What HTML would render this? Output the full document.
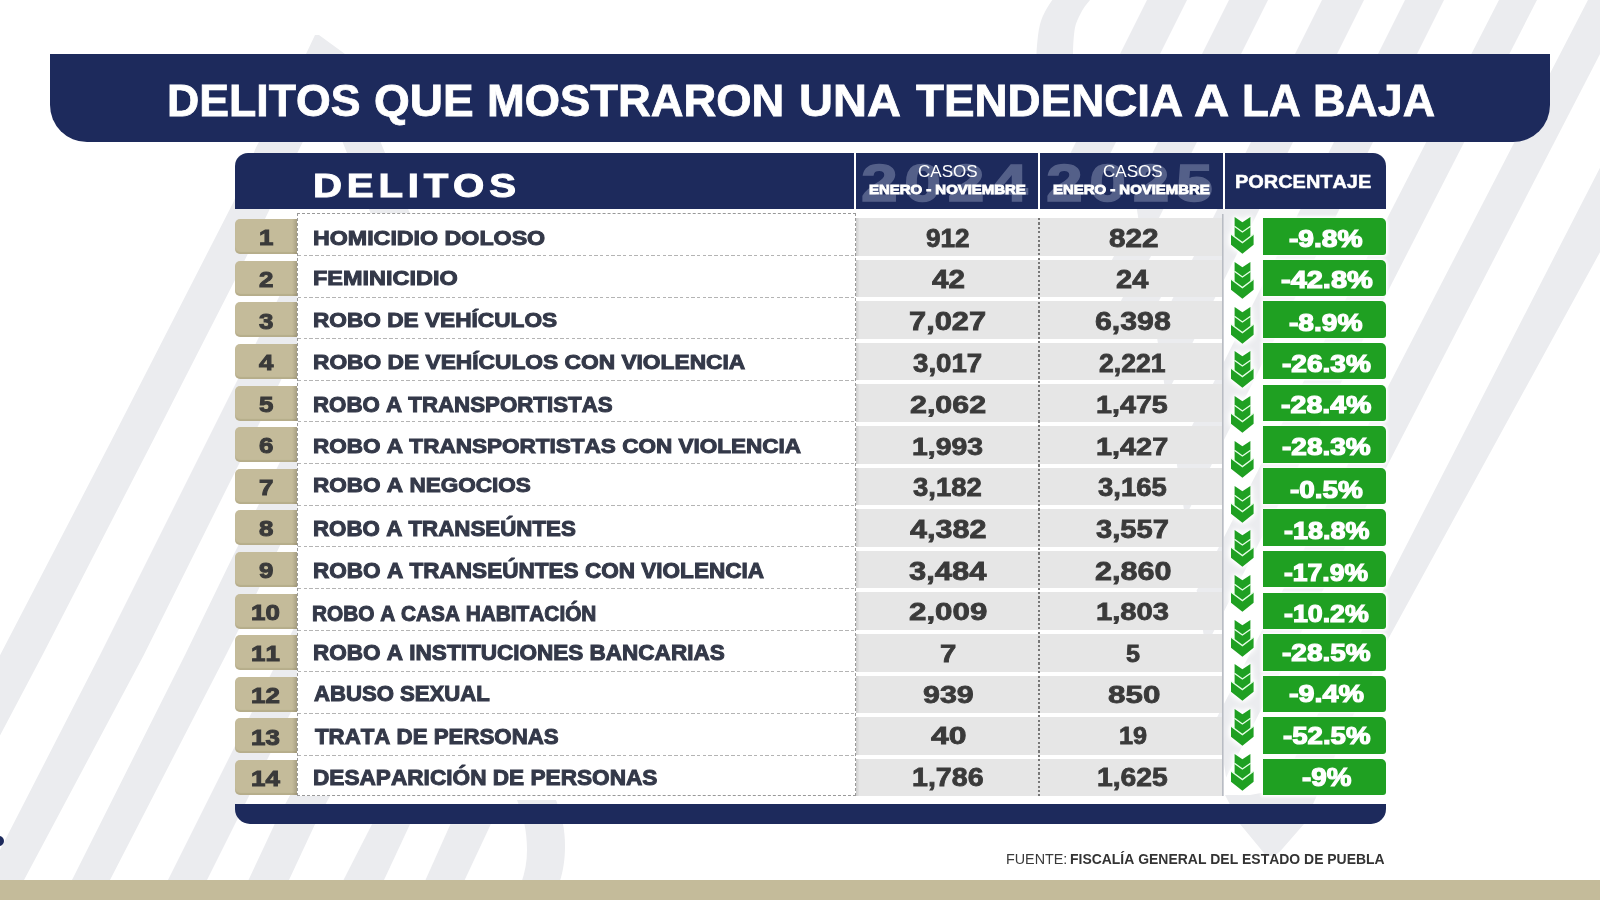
<!DOCTYPE html>
<html lang="es">
<head>
<meta charset="utf-8">
<title>Delitos que mostraron una tendencia a la baja</title>
<style>
html,body{margin:0;padding:0;}
body{width:1600px;height:900px;overflow:hidden;background:#fff;font-family:"Liberation Sans",sans-serif;}
#stage{position:relative;width:1600px;height:900px;overflow:hidden;background:#fff;}
#stage div,#stage span,#stage svg{position:absolute;}
.t{display:block;white-space:nowrap;font-weight:700;transform-origin:0 50%;font-kerning:none;}
.navy{background:#1d2a5c;}
.badge{left:235px;width:62px;height:35px;background:linear-gradient(90deg,#c4bb9a 0,#c4bb9a 57px,#aaa286 61.5px);border-radius:5px 0 0 5px;box-shadow:inset 0 -2px 1px rgba(120,110,70,.18);}
.cell{left:855.4px;width:366.2px;height:37.7px;background:linear-gradient(90deg,#9a9a9a 0,#cfcfcf 1.5px,#e6e6e6 4.5px);}
.gbox{left:1263px;width:123px;height:36.4px;background:#1fa022;border-radius:0 5px 3px 0;box-shadow:0 0 3px 1.5px rgba(255,255,255,.95);}
.hline{left:297.5px;width:557px;height:1px;background:repeating-linear-gradient(90deg,#b4b4b4 0 3.4px,transparent 3.4px 5.7px);}
.wm{font-size:52px;line-height:52px;font-weight:700;color:#a3abc8;opacity:.42;letter-spacing:5.2px;white-space:nowrap;-webkit-text-stroke:1.4px #a3abc8;transform:scaleX(1.27);transform-origin:0 50%;font-kerning:none;}
.arr{filter:drop-shadow(0 0 1.5px #fff) drop-shadow(0 0 2px #fff) drop-shadow(0 0 3px #fff);overflow:visible;}
</style>
</head>
<body>
<div id="stage">

<svg id="bg" width="1600" height="900" viewBox="0 0 1600 900" style="left:0;top:0">
<g fill="#ebecef">
<polygon points="315.0,35.0 319.0,35.0 345.0,54.0 383.0,148.0 425.0,250.0 385.0,250.0 345.0,148.0 325.0,98.0 300.0,147.5 235.0,280.0 153.3,440.0 42.5,655.0 -5.0,745.0 -5.0,665.0 111.7,440.0 233.0,203.0 256.0,147.5 306.0,54.0"/>
<polygon points="300.0,255.0 300.0,342.0 235.0,472.0 143.8,655.0 24.0,880.0 -5.0,890.0 -5.0,860.0 0.5,849.0 100.0,655.0 212.5,430.0"/>
<polygon points="300.0,422.0 300.0,505.0 235.0,637.0 226.0,655.0 110.0,880.0 72.0,880.0 185.0,655.0 235.0,552.0"/>
<polygon points="300.0,616.0 300.0,694.0 235.0,824.0 207.0,880.0 168.0,880.0 235.0,746.0"/>
<polygon points="300.0,777.0 315.0,824.3 289.0,880.0 248.5,880.0 274.6,824.3"/>
<polygon points="300.0,777.0 340.0,777.0 315.0,824.3 274.6,824.3"/>
<polygon points="372.0,824.3 410.0,824.3 384.0,880.0 343.5,880.0"/>
<polygon points="372.0,824.3 410.0,824.3 420.0,804.0 382.0,804.0"/>
<polygon points="450.4,824.3 490.8,824.3 464.7,880.0 425.5,880.0"/>
<polygon points="450.4,824.3 490.8,824.3 500.0,804.0 460.0,804.0"/>
<polygon points="1148.0,-2.0 1188.0,-2.0 1084.5,205.0 1044.5,205.0"/>
<polygon points="1230.0,-2.0 1269.0,-2.0 1143.2,249.6 1133.9,190.3"/>
<polygon points="1323.0,-2.0 1365.0,-2.0 1166.1,395.7 1156.1,331.8"/>
<polygon points="1406.0,-2.0 1445.0,-2.0 1185.2,517.5 1175.9,458.1"/>
<polygon points="1500.0,-2.0 1538.0,-2.0 1205.6,647.2 1196.7,590.4"/>
<polygon points="1589.0,-2.0 1629.0,-2.0 1226.1,777.4 1216.7,718.1"/>
<polygon points="1605.0,158.0 1605.0,243.0 1386.0,643.0 1304.0,824.0 1280.0,851.5 1276.0,854.5 1270.0,856.0 1265.0,854.5 1261.7,850.2 1240.0,824.0 1225.0,795.0 1250.0,795.0 1278.0,790.0 1386.0,585.0"/>
<path d="M1036.5 56L1036.5 54C1037 44 1038 34 1039.3 27.5C1040.5 22 1042 17.5 1044 13.75C1046 9.5 1049 4.5 1052.3 0L1053.5 -2L1091 -2L1090 0C1086 4.5 1082.8 9 1080.5 13.75C1078 18.5 1076 23 1075 27.5C1073.8 34 1073.2 44 1073 54L1073 56Z"/>
<path d="M517 800C523 815 527 830 527 850C527 862 525 872 521 884L559 884C563 872 565 860 565 846C565 830 562 815 556 800Z"/>
</g></svg>

<div style="left:0;top:879.8px;width:1600px;height:21px;background:#c4bb9a"></div>
<div style="left:-6px;top:836px;width:10px;height:10px;border-radius:50%;background:#1d2a5c"></div>
<div class="navy" style="left:50px;top:54.2px;width:1500.3px;height:88.3px;border-radius:0 0 37px 37px"></div>
<div class="navy" style="left:235px;top:153.3px;width:1151px;height:56.2px;border-radius:13px 13px 0 0;overflow:hidden">
<span class="wm" style="left:626px;top:4px">2024</span>
<span class="wm" style="left:810.5px;top:4px">2025</span>
<div style="left:618.7px;top:0;width:2.4px;height:57px;background:#fff"></div>
<div style="left:802.6px;top:0;width:2.4px;height:57px;background:#fff"></div>
<div style="left:987.5px;top:0;width:2.4px;height:57px;background:#fff"></div>
</div>
<div class="navy" style="left:235px;top:804px;width:1151px;height:19.6px;border-radius:0 0 15px 15px"></div>
<div class="badge" style="top:219.10px"></div>
<div class="badge" style="top:260.70px"></div>
<div class="badge" style="top:302.30px"></div>
<div class="badge" style="top:343.90px"></div>
<div class="badge" style="top:385.50px"></div>
<div class="badge" style="top:427.10px"></div>
<div class="badge" style="top:468.70px"></div>
<div class="badge" style="top:510.30px"></div>
<div class="badge" style="top:551.90px"></div>
<div class="badge" style="top:593.50px"></div>
<div class="badge" style="top:635.10px"></div>
<div class="badge" style="top:676.70px"></div>
<div class="badge" style="top:718.30px"></div>
<div class="badge" style="top:759.90px"></div>
<div class="cell" style="top:218.00px"></div>
<div class="cell" style="top:259.60px"></div>
<div class="cell" style="top:301.20px"></div>
<div class="cell" style="top:342.80px"></div>
<div class="cell" style="top:384.40px"></div>
<div class="cell" style="top:426.00px"></div>
<div class="cell" style="top:467.60px"></div>
<div class="cell" style="top:509.20px"></div>
<div class="cell" style="top:550.80px"></div>
<div class="cell" style="top:592.40px"></div>
<div class="cell" style="top:634.00px"></div>
<div class="cell" style="top:675.60px"></div>
<div class="cell" style="top:717.20px"></div>
<div class="cell" style="top:758.80px;height:36.9px"></div>
<div style="left:1113px;top:255.70px;width:37px;height:3.9px;background:#ebecef;transform:skewX(-27deg)"></div>
<div style="left:1122px;top:297.30px;width:38px;height:3.9px;background:#ebecef;transform:skewX(-27deg)"></div>
<div style="left:1038.3px;top:218px;width:1.3px;height:577.7px;background:repeating-linear-gradient(180deg,#777 0 2.2px,transparent 2.2px 4.4px)"></div>
<div style="left:1221.5px;top:214px;width:2px;height:582px;background:linear-gradient(90deg,#aeb2ba,#d9dbe0)"></div>
<div style="left:296.5px;top:213px;width:557.7px;height:581px;background:#fff;border:1px dashed #999;box-sizing:content-box"></div>
<div class="hline" style="top:254.85px"></div>
<div class="hline" style="top:296.50px"></div>
<div class="hline" style="top:338.15px"></div>
<div class="hline" style="top:379.80px"></div>
<div class="hline" style="top:421.45px"></div>
<div class="hline" style="top:463.10px"></div>
<div class="hline" style="top:504.75px"></div>
<div class="hline" style="top:546.40px"></div>
<div class="hline" style="top:588.05px"></div>
<div class="hline" style="top:629.70px"></div>
<div class="hline" style="top:671.35px"></div>
<div class="hline" style="top:713.00px"></div>
<div class="hline" style="top:754.65px"></div>
<div class="gbox" style="top:218.20px"></div>
<div class="gbox" style="top:259.80px"></div>
<div class="gbox" style="top:301.40px"></div>
<div class="gbox" style="top:343.00px"></div>
<div class="gbox" style="top:384.60px"></div>
<div class="gbox" style="top:426.20px"></div>
<div class="gbox" style="top:467.80px"></div>
<div class="gbox" style="top:509.40px"></div>
<div class="gbox" style="top:551.00px"></div>
<div class="gbox" style="top:592.60px"></div>
<div class="gbox" style="top:634.20px"></div>
<div class="gbox" style="top:675.80px"></div>
<div class="gbox" style="top:717.40px"></div>
<div class="gbox" style="top:759.00px"></div>
<svg class="arr" width="27" height="41" viewBox="-2 -2 27 41" style="left:1229.40px;top:215.40px"><path d="M3.6 0L11.4 5.3L19.4 0V19.5L22.6 17.2V27.8L11.4 36.8L0 27.8V17.2L3.6 19.9Z" fill="#1fa022"/><path d="M3.4 9.3L11.4 15L19.6 9.3M-.2 17L11.4 25.6L22.8 17" fill="none" stroke="#e6ffe6" stroke-width="1.4"/></svg>
<svg class="arr" width="27" height="41" viewBox="-2 -2 27 41" style="left:1229.40px;top:260.09px"><path d="M3.6 0L11.4 5.3L19.4 0V19.5L22.6 17.2V27.8L11.4 36.8L0 27.8V17.2L3.6 19.9Z" fill="#1fa022"/><path d="M3.4 9.3L11.4 15L19.6 9.3M-.2 17L11.4 25.6L22.8 17" fill="none" stroke="#e6ffe6" stroke-width="1.4"/></svg>
<svg class="arr" width="27" height="41" viewBox="-2 -2 27 41" style="left:1229.40px;top:304.78px"><path d="M3.6 0L11.4 5.3L19.4 0V19.5L22.6 17.2V27.8L11.4 36.8L0 27.8V17.2L3.6 19.9Z" fill="#1fa022"/><path d="M3.4 9.3L11.4 15L19.6 9.3M-.2 17L11.4 25.6L22.8 17" fill="none" stroke="#e6ffe6" stroke-width="1.4"/></svg>
<svg class="arr" width="27" height="41" viewBox="-2 -2 27 41" style="left:1229.40px;top:349.47px"><path d="M3.6 0L11.4 5.3L19.4 0V19.5L22.6 17.2V27.8L11.4 36.8L0 27.8V17.2L3.6 19.9Z" fill="#1fa022"/><path d="M3.4 9.3L11.4 15L19.6 9.3M-.2 17L11.4 25.6L22.8 17" fill="none" stroke="#e6ffe6" stroke-width="1.4"/></svg>
<svg class="arr" width="27" height="41" viewBox="-2 -2 27 41" style="left:1229.40px;top:394.16px"><path d="M3.6 0L11.4 5.3L19.4 0V19.5L22.6 17.2V27.8L11.4 36.8L0 27.8V17.2L3.6 19.9Z" fill="#1fa022"/><path d="M3.4 9.3L11.4 15L19.6 9.3M-.2 17L11.4 25.6L22.8 17" fill="none" stroke="#e6ffe6" stroke-width="1.4"/></svg>
<svg class="arr" width="27" height="41" viewBox="-2 -2 27 41" style="left:1229.40px;top:438.85px"><path d="M3.6 0L11.4 5.3L19.4 0V19.5L22.6 17.2V27.8L11.4 36.8L0 27.8V17.2L3.6 19.9Z" fill="#1fa022"/><path d="M3.4 9.3L11.4 15L19.6 9.3M-.2 17L11.4 25.6L22.8 17" fill="none" stroke="#e6ffe6" stroke-width="1.4"/></svg>
<svg class="arr" width="27" height="41" viewBox="-2 -2 27 41" style="left:1229.40px;top:483.54px"><path d="M3.6 0L11.4 5.3L19.4 0V19.5L22.6 17.2V27.8L11.4 36.8L0 27.8V17.2L3.6 19.9Z" fill="#1fa022"/><path d="M3.4 9.3L11.4 15L19.6 9.3M-.2 17L11.4 25.6L22.8 17" fill="none" stroke="#e6ffe6" stroke-width="1.4"/></svg>
<svg class="arr" width="27" height="41" viewBox="-2 -2 27 41" style="left:1229.40px;top:528.23px"><path d="M3.6 0L11.4 5.3L19.4 0V19.5L22.6 17.2V27.8L11.4 36.8L0 27.8V17.2L3.6 19.9Z" fill="#1fa022"/><path d="M3.4 9.3L11.4 15L19.6 9.3M-.2 17L11.4 25.6L22.8 17" fill="none" stroke="#e6ffe6" stroke-width="1.4"/></svg>
<svg class="arr" width="27" height="41" viewBox="-2 -2 27 41" style="left:1229.40px;top:572.92px"><path d="M3.6 0L11.4 5.3L19.4 0V19.5L22.6 17.2V27.8L11.4 36.8L0 27.8V17.2L3.6 19.9Z" fill="#1fa022"/><path d="M3.4 9.3L11.4 15L19.6 9.3M-.2 17L11.4 25.6L22.8 17" fill="none" stroke="#e6ffe6" stroke-width="1.4"/></svg>
<svg class="arr" width="27" height="41" viewBox="-2 -2 27 41" style="left:1229.40px;top:617.61px"><path d="M3.6 0L11.4 5.3L19.4 0V19.5L22.6 17.2V27.8L11.4 36.8L0 27.8V17.2L3.6 19.9Z" fill="#1fa022"/><path d="M3.4 9.3L11.4 15L19.6 9.3M-.2 17L11.4 25.6L22.8 17" fill="none" stroke="#e6ffe6" stroke-width="1.4"/></svg>
<svg class="arr" width="27" height="41" viewBox="-2 -2 27 41" style="left:1229.40px;top:662.30px"><path d="M3.6 0L11.4 5.3L19.4 0V19.5L22.6 17.2V27.8L11.4 36.8L0 27.8V17.2L3.6 19.9Z" fill="#1fa022"/><path d="M3.4 9.3L11.4 15L19.6 9.3M-.2 17L11.4 25.6L22.8 17" fill="none" stroke="#e6ffe6" stroke-width="1.4"/></svg>
<svg class="arr" width="27" height="41" viewBox="-2 -2 27 41" style="left:1229.40px;top:706.99px"><path d="M3.6 0L11.4 5.3L19.4 0V19.5L22.6 17.2V27.8L11.4 36.8L0 27.8V17.2L3.6 19.9Z" fill="#1fa022"/><path d="M3.4 9.3L11.4 15L19.6 9.3M-.2 17L11.4 25.6L22.8 17" fill="none" stroke="#e6ffe6" stroke-width="1.4"/></svg>
<svg class="arr" width="27" height="41" viewBox="-2 -2 27 41" style="left:1229.40px;top:751.68px"><path d="M3.6 0L11.4 5.3L19.4 0V19.5L22.6 17.2V27.8L11.4 36.8L0 27.8V17.2L3.6 19.9Z" fill="#1fa022"/><path d="M3.4 9.3L11.4 15L19.6 9.3M-.2 17L11.4 25.6L22.8 17" fill="none" stroke="#e6ffe6" stroke-width="1.4"/></svg>

<span class="t" style="left:167.19px;top:79.00px;font-size:44.33px;line-height:44.33px;color:#fff;transform:scaleX(1.0073);-webkit-text-stroke:0.8px #fff;">DELITOS</span>
<span class="t" style="left:374.36px;top:79.00px;font-size:44.33px;line-height:44.33px;color:#fff;transform:scaleX(1.0375);-webkit-text-stroke:0.8px #fff;">QUE</span>
<span class="t" style="left:487.35px;top:79.00px;font-size:44.33px;line-height:44.33px;color:#fff;transform:scaleX(1.0228);-webkit-text-stroke:0.8px #fff;">MOSTRARON</span>
<span class="t" style="left:798.98px;top:79.00px;font-size:44.33px;line-height:44.33px;color:#fff;transform:scaleX(1.0610);-webkit-text-stroke:0.8px #fff;">UNA</span>
<span class="t" style="left:915.50px;top:79.00px;font-size:44.33px;line-height:44.33px;color:#fff;transform:scaleX(1.0331);-webkit-text-stroke:0.8px #fff;">TENDENCIA</span>
<span class="t" style="left:1193.60px;top:79.00px;font-size:44.33px;line-height:44.33px;color:#fff;transform:scaleX(1.1000);-webkit-text-stroke:0.8px #fff;">A</span>
<span class="t" style="left:1241.71px;top:79.00px;font-size:44.33px;line-height:44.33px;color:#fff;transform:scaleX(0.9933);-webkit-text-stroke:0.8px #fff;">LA</span>
<span class="t" style="left:1313.38px;top:79.00px;font-size:44.33px;line-height:44.33px;color:#fff;transform:scaleX(1.0112);-webkit-text-stroke:0.8px #fff;">BAJA</span>
<span class="t" style="left:312.64px;top:168.00px;font-size:34.08px;line-height:34.08px;color:#fff;letter-spacing:4.06px;transform:scaleX(1.1800);-webkit-text-stroke:1.0px #fff;">DELITOS</span>
<span class="t" style="left:1235.06px;top:173.00px;font-size:18.31px;line-height:18.31px;color:#fff;transform:scaleX(1.0893);-webkit-text-stroke:0.5px #fff;">PORCENTAJE</span>
<span class="t" style="left:312.69px;top:227.00px;font-size:21.0px;line-height:21.0px;color:#343949;transform:scaleX(1.1056);-webkit-text-stroke:1.0px #343949;">HOMICIDIO DOLOSO</span>
<span class="t" style="left:312.69px;top:267.00px;font-size:21.08px;line-height:21.08px;color:#343949;transform:scaleX(1.1137);-webkit-text-stroke:1.0px #343949;">FEMINICIDIO</span>
<span class="t" style="left:312.73px;top:309.00px;font-size:21.08px;line-height:21.08px;color:#343949;transform:scaleX(1.0746);-webkit-text-stroke:1.0px #343949;">ROBO DE VEHÍCULOS</span>
<span class="t" style="left:312.72px;top:351.00px;font-size:21.08px;line-height:21.08px;color:#343949;transform:scaleX(1.0792);-webkit-text-stroke:1.0px #343949;">ROBO DE VEHÍCULOS CON VIOLENCIA</span>
<span class="t" style="left:312.76px;top:395.00px;font-size:21.51px;line-height:21.51px;color:#343949;transform:scaleX(1.0364);-webkit-text-stroke:1.0px #343949;">ROBO A TRANSPORTISTAS</span>
<span class="t" style="left:312.73px;top:435.00px;font-size:21.0px;line-height:21.0px;color:#343949;transform:scaleX(1.0728);-webkit-text-stroke:1.0px #343949;">ROBO A TRANSPORTISTAS CON VIOLENCIA</span>
<span class="t" style="left:312.70px;top:475.00px;font-size:20.49px;line-height:20.49px;color:#343949;transform:scaleX(1.1000);-webkit-text-stroke:1.0px #343949;">ROBO A NEGOCIOS</span>
<span class="t" style="left:312.76px;top:519.00px;font-size:21.51px;line-height:21.51px;color:#343949;transform:scaleX(1.0381);-webkit-text-stroke:1.0px #343949;">ROBO A TRANSEÚNTES</span>
<span class="t" style="left:312.75px;top:561.00px;font-size:21.51px;line-height:21.51px;color:#343949;transform:scaleX(1.0489);-webkit-text-stroke:1.0px #343949;">ROBO A TRANSEÚNTES CON VIOLENCIA</span>
<span class="t" style="left:312.13px;top:604.00px;font-size:21.51px;line-height:21.51px;color:#343949;transform:scaleX(0.9678);-webkit-text-stroke:1.0px #343949;">ROBO A CASA HABITACIÓN</span>
<span class="t" style="left:312.75px;top:643.00px;font-size:21.51px;line-height:21.51px;color:#343949;transform:scaleX(1.0476);-webkit-text-stroke:1.0px #343949;">ROBO A INSTITUCIONES BANCARIAS</span>
<span class="t" style="left:313.80px;top:684.00px;font-size:21.51px;line-height:21.51px;color:#343949;transform:scaleX(1.0293);-webkit-text-stroke:1.0px #343949;">ABUSO SEXUAL</span>
<span class="t" style="left:314.50px;top:727.00px;font-size:21.51px;line-height:21.51px;color:#343949;transform:scaleX(1.0354);-webkit-text-stroke:1.0px #343949;">TRATA DE PERSONAS</span>
<span class="t" style="left:312.77px;top:767.00px;font-size:22.02px;line-height:22.02px;color:#343949;transform:scaleX(1.0276);-webkit-text-stroke:1.0px #343949;">DESAPARICIÓN DE PERSONAS</span>
<span class="t" style="left:926.40px;top:226.00px;font-size:24.96px;line-height:24.96px;color:#3a3a3a;transform:scaleX(1.0477);-webkit-text-stroke:0.8px #3a3a3a;">912</span>
<span class="t" style="left:1108.60px;top:226.00px;font-size:24.96px;line-height:24.96px;color:#3a3a3a;transform:scaleX(1.1900);-webkit-text-stroke:0.8px #3a3a3a;">822</span>
<span class="t" style="left:931.70px;top:267.00px;font-size:25.53px;line-height:25.53px;color:#3a3a3a;transform:scaleX(1.1617);-webkit-text-stroke:0.8px #3a3a3a;">42</span>
<span class="t" style="left:1116.30px;top:267.00px;font-size:25.53px;line-height:25.53px;color:#3a3a3a;transform:scaleX(1.1374);-webkit-text-stroke:0.8px #3a3a3a;">24</span>
<span class="t" style="left:908.50px;top:309.00px;font-size:25.67px;line-height:25.67px;color:#3a3a3a;transform:scaleX(1.2012);-webkit-text-stroke:0.8px #3a3a3a;">7,027</span>
<span class="t" style="left:1094.80px;top:309.00px;font-size:25.67px;line-height:25.67px;color:#3a3a3a;transform:scaleX(1.1809);-webkit-text-stroke:0.8px #3a3a3a;">6,398</span>
<span class="t" style="left:912.80px;top:351.00px;font-size:25.53px;line-height:25.53px;color:#3a3a3a;transform:scaleX(1.0839);-webkit-text-stroke:0.8px #3a3a3a;">3,017</span>
<span class="t" style="left:1099.40px;top:351.00px;font-size:25.53px;line-height:25.53px;color:#3a3a3a;transform:scaleX(1.0415);-webkit-text-stroke:0.8px #3a3a3a;">2,221</span>
<span class="t" style="left:910.20px;top:393.00px;font-size:24.82px;line-height:24.82px;color:#3a3a3a;transform:scaleX(1.2253);-webkit-text-stroke:0.8px #3a3a3a;">2,062</span>
<span class="t" style="left:1095.94px;top:393.00px;font-size:24.82px;line-height:24.82px;color:#3a3a3a;transform:scaleX(1.1568);-webkit-text-stroke:0.8px #3a3a3a;">1,475</span>
<span class="t" style="left:912.05px;top:435.00px;font-size:24.68px;line-height:24.68px;color:#3a3a3a;transform:scaleX(1.1513);-webkit-text-stroke:0.8px #3a3a3a;">1,993</span>
<span class="t" style="left:1095.93px;top:435.00px;font-size:24.68px;line-height:24.68px;color:#3a3a3a;transform:scaleX(1.1696);-webkit-text-stroke:0.8px #3a3a3a;">1,427</span>
<span class="t" style="left:913.20px;top:475.00px;font-size:25.53px;line-height:25.53px;color:#3a3a3a;transform:scaleX(1.0776);-webkit-text-stroke:0.8px #3a3a3a;">3,182</span>
<span class="t" style="left:1098.20px;top:475.00px;font-size:25.53px;line-height:25.53px;color:#3a3a3a;transform:scaleX(1.0776);-webkit-text-stroke:0.8px #3a3a3a;">3,165</span>
<span class="t" style="left:909.70px;top:517.00px;font-size:25.53px;line-height:25.53px;color:#3a3a3a;transform:scaleX(1.1985);-webkit-text-stroke:0.8px #3a3a3a;">4,382</span>
<span class="t" style="left:1095.90px;top:517.00px;font-size:25.53px;line-height:25.53px;color:#3a3a3a;transform:scaleX(1.1420);-webkit-text-stroke:0.8px #3a3a3a;">3,557</span>
<span class="t" style="left:908.60px;top:559.00px;font-size:25.53px;line-height:25.53px;color:#3a3a3a;transform:scaleX(1.2140);-webkit-text-stroke:0.8px #3a3a3a;">3,484</span>
<span class="t" style="left:1094.80px;top:559.00px;font-size:25.53px;line-height:25.53px;color:#3a3a3a;transform:scaleX(1.1970);-webkit-text-stroke:0.8px #3a3a3a;">2,860</span>
<span class="t" style="left:909.10px;top:600.00px;font-size:24.82px;line-height:24.82px;color:#3a3a3a;transform:scaleX(1.2612);-webkit-text-stroke:0.8px #3a3a3a;">2,009</span>
<span class="t" style="left:1095.92px;top:600.00px;font-size:24.82px;line-height:24.82px;color:#3a3a3a;transform:scaleX(1.1759);-webkit-text-stroke:0.8px #3a3a3a;">1,803</span>
<span class="t" style="left:939.82px;top:642.00px;font-size:24.82px;line-height:24.82px;color:#3a3a3a;transform:scaleX(1.1833);-webkit-text-stroke:0.8px #3a3a3a;">7</span>
<span class="t" style="left:1126.00px;top:642.00px;font-size:24.82px;line-height:24.82px;color:#3a3a3a;transform:scaleX(1.0143);-webkit-text-stroke:0.8px #3a3a3a;">5</span>
<span class="t" style="left:922.50px;top:683.00px;font-size:24.54px;line-height:24.54px;color:#3a3a3a;transform:scaleX(1.2411);-webkit-text-stroke:0.8px #3a3a3a;">939</span>
<span class="t" style="left:1107.90px;top:683.00px;font-size:24.54px;line-height:24.54px;color:#3a3a3a;transform:scaleX(1.2784);-webkit-text-stroke:0.8px #3a3a3a;">850</span>
<span class="t" style="left:930.60px;top:724.00px;font-size:24.82px;line-height:24.82px;color:#3a3a3a;transform:scaleX(1.2873);-webkit-text-stroke:0.8px #3a3a3a;">40</span>
<span class="t" style="left:1118.68px;top:724.00px;font-size:24.82px;line-height:24.82px;color:#3a3a3a;transform:scaleX(1.0194);-webkit-text-stroke:0.8px #3a3a3a;">19</span>
<span class="t" style="left:911.68px;top:765.00px;font-size:25.53px;line-height:25.53px;color:#3a3a3a;transform:scaleX(1.1203);-webkit-text-stroke:0.8px #3a3a3a;">1,786</span>
<span class="t" style="left:1096.69px;top:765.00px;font-size:25.53px;line-height:25.53px;color:#3a3a3a;transform:scaleX(1.1091);-webkit-text-stroke:0.8px #3a3a3a;">1,625</span>
<span class="t" style="left:1289.20px;top:228.00px;font-size:23.26px;line-height:23.26px;color:#fff;transform:scaleX(1.2102);-webkit-text-stroke:1.2px #fff;">-9.8%</span>
<span class="t" style="left:1280.70px;top:268.00px;font-size:24.11px;line-height:24.11px;color:#fff;transform:scaleX(1.2008);-webkit-text-stroke:1.2px #fff;">-42.8%</span>
<span class="t" style="left:1289.20px;top:311.00px;font-size:24.4px;line-height:24.4px;color:#fff;transform:scaleX(1.1542);-webkit-text-stroke:1.2px #fff;">-8.9%</span>
<span class="t" style="left:1282.30px;top:352.00px;font-size:23.97px;line-height:23.97px;color:#fff;transform:scaleX(1.1701);-webkit-text-stroke:1.2px #fff;">-26.3%</span>
<span class="t" style="left:1281.10px;top:393.00px;font-size:24.4px;line-height:24.4px;color:#fff;transform:scaleX(1.1702);-webkit-text-stroke:1.2px #fff;">-28.4%</span>
<span class="t" style="left:1281.80px;top:435.00px;font-size:24.4px;line-height:24.4px;color:#fff;transform:scaleX(1.1470);-webkit-text-stroke:1.2px #fff;">-28.3%</span>
<span class="t" style="left:1289.50px;top:478.00px;font-size:24.4px;line-height:24.4px;color:#fff;transform:scaleX(1.1432);-webkit-text-stroke:1.2px #fff;">-0.5%</span>
<span class="t" style="left:1283.50px;top:519.00px;font-size:24.4px;line-height:24.4px;color:#fff;transform:scaleX(1.1045);-webkit-text-stroke:1.2px #fff;">-18.8%</span>
<span class="t" style="left:1284.20px;top:561.00px;font-size:24.4px;line-height:24.4px;color:#fff;transform:scaleX(1.0864);-webkit-text-stroke:1.2px #fff;">-17.9%</span>
<span class="t" style="left:1284.20px;top:602.00px;font-size:24.11px;line-height:24.11px;color:#fff;transform:scaleX(1.1099);-webkit-text-stroke:1.2px #fff;">-10.2%</span>
<span class="t" style="left:1281.80px;top:641.00px;font-size:24.4px;line-height:24.4px;color:#fff;transform:scaleX(1.1470);-webkit-text-stroke:1.2px #fff;">-28.5%</span>
<span class="t" style="left:1288.80px;top:682.00px;font-size:24.68px;line-height:24.68px;color:#fff;transform:scaleX(1.1626);-webkit-text-stroke:1.2px #fff;">-9.4%</span>
<span class="t" style="left:1282.50px;top:724.00px;font-size:24.4px;line-height:24.4px;color:#fff;transform:scaleX(1.1315);-webkit-text-stroke:1.2px #fff;">-52.5%</span>
<span class="t" style="left:1301.90px;top:765.00px;font-size:25.39px;line-height:25.39px;color:#fff;transform:scaleX(1.0951);-webkit-text-stroke:1.2px #fff;">-9%</span>
<span class="t" style="left:258.59px;top:227.00px;font-size:22.13px;line-height:22.13px;color:#3a3a3a;transform:scaleX(1.1700);-webkit-text-stroke:1.0px #3a3a3a;">1</span>
<span class="t" style="left:259.18px;top:269.00px;font-size:22.13px;line-height:22.13px;color:#3a3a3a;transform:scaleX(1.1700);-webkit-text-stroke:1.0px #3a3a3a;">2</span>
<span class="t" style="left:259.18px;top:311.00px;font-size:22.13px;line-height:22.13px;color:#3a3a3a;transform:scaleX(1.1700);-webkit-text-stroke:1.0px #3a3a3a;">3</span>
<span class="t" style="left:258.59px;top:352.00px;font-size:22.13px;line-height:22.13px;color:#3a3a3a;transform:scaleX(1.1700);-webkit-text-stroke:1.0px #3a3a3a;">4</span>
<span class="t" style="left:259.18px;top:394.00px;font-size:22.13px;line-height:22.13px;color:#3a3a3a;transform:scaleX(1.1700);-webkit-text-stroke:1.0px #3a3a3a;">5</span>
<span class="t" style="left:259.18px;top:435.00px;font-size:22.13px;line-height:22.13px;color:#3a3a3a;transform:scaleX(1.1700);-webkit-text-stroke:1.0px #3a3a3a;">6</span>
<span class="t" style="left:259.18px;top:477.00px;font-size:22.13px;line-height:22.13px;color:#3a3a3a;transform:scaleX(1.1700);-webkit-text-stroke:1.0px #3a3a3a;">7</span>
<span class="t" style="left:259.18px;top:518.00px;font-size:22.13px;line-height:22.13px;color:#3a3a3a;transform:scaleX(1.1700);-webkit-text-stroke:1.0px #3a3a3a;">8</span>
<span class="t" style="left:259.18px;top:560.00px;font-size:22.13px;line-height:22.13px;color:#3a3a3a;transform:scaleX(1.1700);-webkit-text-stroke:1.0px #3a3a3a;">9</span>
<span class="t" style="left:251.40px;top:602.00px;font-size:22.13px;line-height:22.13px;color:#3a3a3a;transform:scaleX(1.1700);-webkit-text-stroke:1.0px #3a3a3a;">10</span>
<span class="t" style="left:251.40px;top:643.00px;font-size:22.13px;line-height:22.13px;color:#3a3a3a;transform:scaleX(1.1700);-webkit-text-stroke:1.0px #3a3a3a;">11</span>
<span class="t" style="left:251.40px;top:685.00px;font-size:22.13px;line-height:22.13px;color:#3a3a3a;transform:scaleX(1.1700);-webkit-text-stroke:1.0px #3a3a3a;">12</span>
<span class="t" style="left:251.40px;top:727.00px;font-size:22.13px;line-height:22.13px;color:#3a3a3a;transform:scaleX(1.1700);-webkit-text-stroke:1.0px #3a3a3a;">13</span>
<span class="t" style="left:250.81px;top:768.00px;font-size:22.13px;line-height:22.13px;color:#3a3a3a;transform:scaleX(1.1700);-webkit-text-stroke:1.0px #3a3a3a;">14</span>
<span class="t" style="left:918.00px;top:164.00px;font-size:16.72px;line-height:16.72px;color:#fff;font-weight:400;transform:scaleX(1.0199);">CASOS</span>
<span class="t" style="left:869.20px;top:184.00px;font-size:12.79px;line-height:12.79px;color:#fff;transform:scaleX(1.1682);-webkit-text-stroke:0.9px #fff;">ENERO - NOVIEMBRE</span>
<span class="t" style="left:1102.50px;top:164.00px;font-size:16.72px;line-height:16.72px;color:#fff;font-weight:400;transform:scaleX(1.0199);">CASOS</span>
<span class="t" style="left:1053.45px;top:184.00px;font-size:12.79px;line-height:12.79px;color:#fff;transform:scaleX(1.1682);-webkit-text-stroke:0.9px #fff;">ENERO - NOVIEMBRE</span>
<span class="t" style="left:1005.66px;top:853.00px;font-size:13.81px;line-height:13.81px;color:#3a3a3a;font-weight:400;transform:scaleX(1.0387);">FUENTE:</span>
<span class="t" style="left:1070.00px;top:853.00px;font-size:13.81px;line-height:13.81px;color:#333;transform:scaleX(1.0111);">FISCALÍA GENERAL DEL ESTADO DE PUEBLA</span>
</div>
</body>
</html>
